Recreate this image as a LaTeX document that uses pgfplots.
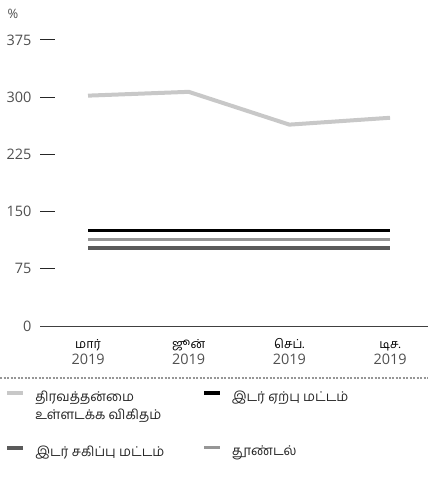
\documentclass[border=0pt]{standalone}
\usepackage{fontspec}
\setmainfont{Open Sans}
\newfontfamily\tamil[Script=Tamil]{Hind Madurai}
\usepackage{pgfplots}
\pgfplotsset{compat=1.18}
\definecolor{liq}{RGB}{200,200,200}
\definecolor{trig}{RGB}{150,150,150}
\definecolor{tol}{RGB}{90,90,90}
\definecolor{lbl}{RGB}{80,80,80}
\newcommand{\mon}[1]{{\color{black}\tamil\fontsize{12.5}{15}\selectfont\rule{0pt}{11bp}#1}}
\begin{document}
\begin{tikzpicture}
\useasboundingbox (0,0) rectangle (428bp,482bp);
\begin{axis}[
  at={(40bp,156bp)}, anchor=south west, scale only axis,
  width=388bp, height=305.1bp,
  xmin=-0.477, xmax=3.377, ymin=0, ymax=400,
  axis x line=bottom, axis y line=left,
  axis line style={-},
  x axis line style={draw=black!75, line width=1bp},
  y axis line style={draw=none},
  ytick={0,75,150,225,300,375},
  tick align=inside,
  major tick length=15bp,
  ytick style={draw=black!85, line width=1bp},
  xtick={0,1,2,3},
  xtick style={draw=none},
  xticklabels={{\mon{மார்}\\2019},
               {\mon{ஜூன்}\\2019},
               {\mon{செப்.}\\2019},
               {\mon{டிச.}\\2019}},
  xticklabel style={align=center, text=lbl, font=\fontsize{14.5}{16}\selectfont, yshift=-8bp},
  yticklabel style={text=lbl, font=\fontsize{14.5}{16}\selectfont, xshift=-5bp},
  /pgf/number format/assume math mode=true,
  legend columns=2,
  legend style={at={(-0.090,-0.205)}, anchor=north west, draw=none, fill=none,
    inner sep=0pt, column sep=8bp, row sep=39bp,
    font=\tamil\fontsize{13.5}{18}\selectfont, text=black!85},
  legend cell align=left,
  legend image code/.code={\draw[#1] (0bp,4bp) -- (16bp,4bp);},
]
\addplot[liq, line width=4bp] coordinates {(0,302) (1,307) (2,264) (3,273)};
\addlegendentry{\parbox[t]{157bp}{திரவத்தன்மை\\உள்ளடக்க விகிதம்}}
\addplot[black, line width=3.5bp] coordinates {(0,125) (1,125) (2,125) (3,125)};
\addlegendentry{\parbox[t]{157bp}{இடர் ஏற்பு மட்டம்}}
\addplot[tol, line width=3.5bp] coordinates {(0,102) (1,102) (2,102) (3,102)};
\addlegendentry{\parbox[t]{157bp}{இடர் சகிப்பு மட்டம்}}
\addplot[trig, line width=3bp] coordinates {(0,114) (1,114) (2,114) (3,114)};
\addlegendentry{\parbox[t]{157bp}{தூண்டல்}}
\end{axis}
\node[anchor=base west, text=lbl, font=\fontsize{13}{15}\selectfont] at (4bp,463bp) {\%};
\draw[trig, line width=1.2bp, dash pattern=on 2bp off 1.5bp] (0,104bp) -- (428bp,104bp);
\end{tikzpicture}
\end{document}
